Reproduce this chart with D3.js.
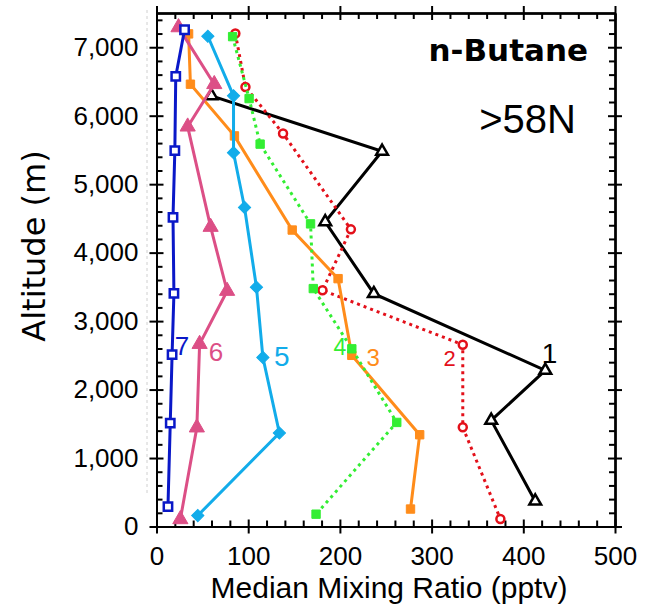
<!DOCTYPE html>
<html>
<head>
	<title>n-Butane</title>
	<script src="https://d3js.org/d3.v7.min.js"></script>
	<style>
		body { margin: 0; background: #fff; }
		svg { display: block; }
	</style>
</head>
<body>
	<div id="chart"></div>
	<script type="text/javascript">
		// data.........................................
		var labels = ['1', '2', '3', '4', '5', '6', '7'];
		var xTicks = [0, 100, 200, 300, 400, 500];
		var yTicks = [0, 1000, 2000, 3000, 4000, 5000, 6000, 7000];

		var ratio1 = [60, 246, 184, 237, 424, 365, 413];
		var alt1   = [6290, 5480, 4450, 3400, 2280, 1550, 370];
		var ratio2 = [86, 97, 138, 212, 181, 334, 334, 375];
		var alt2   = [7200, 6420, 5740, 4340, 3450, 2655, 1450, 110];
		var ratio3 = [35, 37, 85, 148, 198, 213, 287, 277];
		var alt3   = [7195, 6460, 5705, 4330, 3620, 2500, 1340, 255];
		var ratio4 = [83, 101, 113, 168, 171, 213, 262, 174];
		var alt4   = [7155, 6250, 5585, 4420, 3475, 2595, 1520, 180];
		var ratio5 = [56, 84, 84, 96, 109, 116, 134, 45];
		var alt5   = [7160, 6290, 5460, 4660, 3495, 2470, 1365, 160];
		var ratio6 = [24, 63, 34, 59, 77, 47, 44, 26];
		var alt6   = [7290, 6460, 5840, 4375, 3440, 2665, 1445, 105];
		var ratio7 = [30.6, 21, 20, 18, 19, 17, 15, 12.5];
		var alt7   = [7255, 6575, 5490, 4515, 3405, 2510, 1510, 290];

		var ratios = [ratio1, ratio2, ratio3, ratio4, ratio5, ratio6, ratio7];
		var alts = [alt1, alt2, alt3, alt4, alt5, alt6, alt7];

		// styles per series..........................
		var colors = ['#000000', '#e3101a', '#ff8c1a', '#33ee33', '#12acea', '#dc4f86', '#0a18c8'];
		var dashes = [null, '3,4', null, '3,4', null, null, null];
		var symbols = [d3.symbolTriangle, d3.symbolCircle, d3.symbolSquare, d3.symbolSquare, d3.symbolSquare, d3.symbolTriangle, d3.symbolSquare];
		var symSize = [60, 50, 70, 70, 75, 100, 70];
		var filled = [false, false, true, true, true, true, false];
		var rotate = [0, 0, 0, 0, 45, 0, 0];
		// label position (pptv, altitude) and size
		var labelPos = [[420, 2390], [313, 2340], [229, 2340], [193, 2510], [128, 2340], [57, 2410], [20, 2510]];
		var labelSize = [28, 22, 24, 23, 28, 26, 26];

		var W = 654, H = 613;
		var plotL = 156.5, plotR = 615, plotT = 13, plotB = 526.5;

		var svg = d3.select('#chart').append('svg')
			.attr('width', W)
			.attr('height', H);

		var xScale = d3.scaleLinear().domain([0, 500]).range([plotL, plotR]);
		var yScale = d3.scaleLinear().domain([0, 7500]).range([plotB, plotT]);

		// faint guide on the far left
		svg.append('line')
			.attr('x1', 147).attr('x2', 147)
			.attr('y1', 10).attr('y2', 495)
			.style('stroke', '#d0d0d0')
			.style('stroke-width', 1)
			.style('stroke-dasharray', '3,3');

		// axes.........................................
		var minorX = d3.range(0, 501, 20).filter(function(d){ return d % 100 !== 0; });
		var minorY = d3.range(0, 7501, 200).filter(function(d){ return d % 1000 !== 0; });
		var majorY = d3.range(0, 7501, 1000);

		function styleAxis(g) {
			g.selectAll('path').style('stroke', '#000').style('stroke-width', 2);
			g.selectAll('line').style('stroke', '#000').style('stroke-width', 2);
		}

		var axes = svg.append('g');

		// bottom
		var xAxis = axes.append('g').attr('transform', 'translate(0,' + plotB + ')')
			.call(d3.axisBottom(xScale).tickValues(xTicks).tickSize(7).tickSizeOuter(0).tickPadding(13));
		xAxis.selectAll('text')
			.style('font-family', '"Liberation Sans", Arial, sans-serif')
			.style('font-size', '26px')
			.style('fill', '#000');
		axes.append('g').attr('transform', 'translate(0,' + plotB + ')')
			.call(d3.axisBottom(xScale).tickValues(xTicks).tickSize(-7).tickSizeOuter(0).tickFormat(''));
		axes.append('g').attr('transform', 'translate(0,' + plotB + ')')
			.call(d3.axisBottom(xScale).tickValues(minorX).tickSize(-6).tickSizeOuter(0).tickFormat(''));

		// top
		axes.append('g').attr('transform', 'translate(0,' + plotT + ')')
			.call(d3.axisTop(xScale).tickValues(xTicks).tickSize(7).tickSizeOuter(0).tickFormat(''));
		axes.append('g').attr('transform', 'translate(0,' + plotT + ')')
			.call(d3.axisTop(xScale).tickValues(xTicks).tickSize(-7).tickSizeOuter(0).tickFormat(''));
		axes.append('g').attr('transform', 'translate(0,' + plotT + ')')
			.call(d3.axisTop(xScale).tickValues(minorX).tickSize(-6).tickSizeOuter(0).tickFormat(''));

		// left
		var yAxis = axes.append('g').attr('transform', 'translate(' + plotL + ',0)')
			.call(d3.axisLeft(yScale).tickValues(yTicks).tickSize(7).tickSizeOuter(0).tickPadding(11)
				.tickFormat(d3.format(',')));
		yAxis.selectAll('text')
			.style('font-family', '"Liberation Sans", Arial, sans-serif')
			.style('font-size', '26px')
			.style('fill', '#000');
		axes.append('g').attr('transform', 'translate(' + plotL + ',0)')
			.call(d3.axisLeft(yScale).tickValues(majorY).tickSize(-7).tickSizeOuter(0).tickFormat(''));
		axes.append('g').attr('transform', 'translate(' + plotL + ',0)')
			.call(d3.axisLeft(yScale).tickValues(minorY).tickSize(-6).tickSizeOuter(0).tickFormat(''));

		// right
		axes.append('g').attr('transform', 'translate(' + plotR + ',0)')
			.call(d3.axisRight(yScale).tickValues(majorY).tickSize(7).tickSizeOuter(0).tickFormat(''));
		axes.append('g').attr('transform', 'translate(' + plotR + ',0)')
			.call(d3.axisRight(yScale).tickValues(majorY).tickSize(-7).tickSizeOuter(0).tickFormat(''));
		axes.append('g').attr('transform', 'translate(' + plotR + ',0)')
			.call(d3.axisRight(yScale).tickValues(minorY).tickSize(-6).tickSizeOuter(0).tickFormat(''));

		axes.selectAll('g').call(styleAxis);

		// axis titles..................................
		svg.append('text')
			.attr('x', 389).attr('y', 598)
			.attr('text-anchor', 'middle')
			.style('font-family', '"Liberation Sans", Arial, sans-serif')
			.style('font-size', '30px')
			.text('Median Mixing Ratio (pptv)');

		svg.append('text')
			.attr('transform', 'translate(45,246) rotate(-90)')
			.attr('text-anchor', 'middle')
			.style('font-family', '"DejaVu Sans", sans-serif')
			.style('font-size', '32px')
			.text('Altitude (m)');

		svg.append('text')
			.attr('x', 588).attr('y', 61)
			.attr('text-anchor', 'end')
			.style('font-family', '"DejaVu Sans", sans-serif')
			.style('font-weight', 'bold')
			.style('font-size', '31px')
			.text('n-Butane');

		svg.append('text')
			.attr('x', 576).attr('y', 133)
			.attr('text-anchor', 'end')
			.style('font-family', '"Liberation Sans", Arial, sans-serif')
			.style('font-size', '40px')
			.text('>58N');

		// series.......................................
		var line = d3.line()
			.x(function(d){ return xScale(d[0]); })
			.y(function(d){ return yScale(d[1]); });

		var plot = svg.append('g');

		ratios.forEach(function(r, i) {
			var pts = r.map(function(v, j){ return [v, alts[i][j]]; });
			var c = colors[i];

			plot.append('path')
				.datum(pts)
				.attr('d', line)
				.style('fill', 'none')
				.style('stroke', c)
				.style('stroke-width', 3)
				.style('stroke-dasharray', dashes[i]);

			plot.selectAll('.m' + i)
				.data(pts)
				.enter()
				.append('path')
				.attr('class', 'm' + i)
				.attr('d', d3.symbol().type(symbols[i]).size(symSize[i]))
				.attr('transform', function(d){
					return 'translate(' + xScale(d[0]) + ',' + yScale(d[1]) + ') rotate(' + rotate[i] + ')';
				})
				.style('fill', filled[i] ? c : '#fff')
				.style('stroke', c)
				.style('stroke-width', filled[i] ? 1 : 2.5);

			plot.append('text')
				.attr('x', xScale(labelPos[i][0]))
				.attr('y', yScale(labelPos[i][1]))
				.style('font-family', '"Liberation Sans", Arial, sans-serif')
				.style('font-size', labelSize[i] + 'px')
				.style('fill', c)
				.text(labels[i]);
		});
	</script>
</body>
</html>
